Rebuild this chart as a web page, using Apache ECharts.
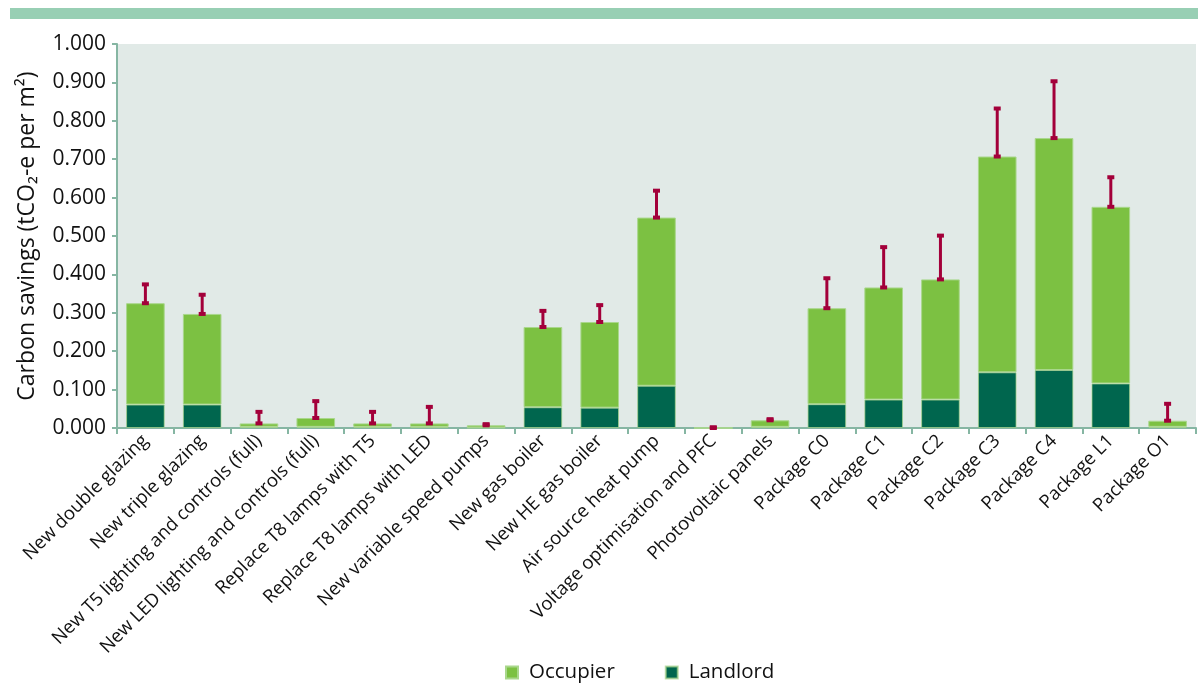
<!DOCTYPE html>
<html>
<head>
<meta charset="utf-8">
<script src="https://cdn.jsdelivr.net/npm/echarts@6/dist/echarts.min.js"></script>
<style>
html,body{margin:0;padding:0;background:#fff;}
#chart{width:1200px;height:684px;}
</style>
</head>
<body>
<div id="chart"></div>
<script>
const categories = [
  'New double glazing','New triple glazing','New T5 lighting and controls (full)',
  'New LED lighting and controls (full)','Replace T8 lamps with T5','Replace T8 lamps with LED',
  'New variable speed pumps','New gas boiler','New HE gas boiler','Air source heat pump',
  'Voltage optimisation and PFC','Photovoltaic panels','Package C0','Package C1','Package C2',
  'Package C3','Package C4','Package L1','Package O1'
];
const landlord = [0.061,0.061,0.003,0.003,0.003,0.003,0.001,0.054,0.053,0.110,0,0.003,0.062,0.074,0.074,0.145,0.151,0.116,0.003];
const occupier = [0.264,0.236,0.009,0.023,0.009,0.009,0.006,0.209,0.223,0.438,0,0.017,0.250,0.292,0.313,0.562,0.604,0.460,0.016];
const errorPlus = [0.049,0.050,0.030,0.044,0.030,0.043,0.003,0.042,0.044,0.070,0.002,0.003,0.078,0.105,0.114,0.125,0.148,0.077,0.044];
const yTicks = [0,0.1,0.2,0.3,0.4,0.5,0.6,0.7,0.8,0.9,1.0];

const errData = categories.map((c,i)=>[i, landlord[i]+occupier[i], landlord[i]+occupier[i]+errorPlus[i]]);

const chart = echarts.init(document.getElementById('chart'));
const font = '"Open Sans", "Noto Sans", sans-serif';
chart.setOption({
  animation:false,
  textStyle:{fontFamily:font},
  graphic:[{type:'rect',shape:{x:10,y:8,width:1188,height:11},style:{fill:'#98cfb4'},silent:true}],
  grid:{left:117,right:4,top:44,bottom:256,show:true,backgroundColor:'#e1eae7',borderWidth:0},
  legend:{
    top:657,left:500,itemWidth:12,itemHeight:12,itemGap:50,icon:'rect',
    data:['Occupier','Landlord'],
    textStyle:{fontSize:20.5,color:'#111',fontFamily:font,padding:[0,0,0,6]}
  },
  xAxis:{
    type:'category',data:categories,
    axisLine:{lineStyle:{color:'#86b6a3',width:2}},
    axisTick:{show:true,length:6,lineStyle:{color:'#86b6a3',width:2},alignWithLabel:false},
    axisLabel:{rotate:45,interval:0,fontSize:18.5,color:'#111',fontFamily:font,margin:10}
  },
  yAxis:{
    type:'value',min:0,max:1,interval:0.1,
    name:'Carbon savings (tCO\u2082-e per m\u00b2)',nameLocation:'middle',nameGap:72,
    nameTextStyle:{fontSize:23,color:'#111',fontFamily:font,padding:[0,0,6,0]},
    axisLine:{show:true,lineStyle:{color:'#86b6a3',width:2}},
    axisTick:{show:true,length:5,lineStyle:{color:'#86b6a3',width:2}},
    splitLine:{show:false},
    axisLabel:{fontSize:21,color:'#111',fontFamily:font,margin:11,formatter:v=>v.toFixed(3)}
  },
  series:[
    {name:'Landlord',type:'bar',stack:'s',data:landlord,barWidth:'68%',
     itemStyle:{color:'#00664e',borderColor:'rgba(170,214,140,0.7)',borderWidth:1}},
    {name:'Occupier',type:'bar',stack:'s',data:occupier,barWidth:'68%',
     itemStyle:{color:'#7cc142',borderColor:'#a9d78c',borderWidth:1}},
    {name:'err',type:'custom',data:errData,z:10,
     renderItem:function(params,api){
       const x=api.value(0);
       const lo=api.coord([x,api.value(1)]);
       const hi=api.coord([x,api.value(2)]);
       const col='#a3003a';
       return {type:'group',children:[
         {type:'line',shape:{x1:lo[0],y1:lo[1],x2:hi[0],y2:hi[1]},style:{stroke:col,lineWidth:3}},
         {type:'rect',shape:{x:lo[0]-3.5,y:lo[1]-2,width:7,height:4},style:{fill:col}},
         {type:'rect',shape:{x:hi[0]-3.5,y:hi[1]-2,width:7,height:4},style:{fill:col}}
       ]};
     }}
  ]
});
</script>
</body>
</html>
